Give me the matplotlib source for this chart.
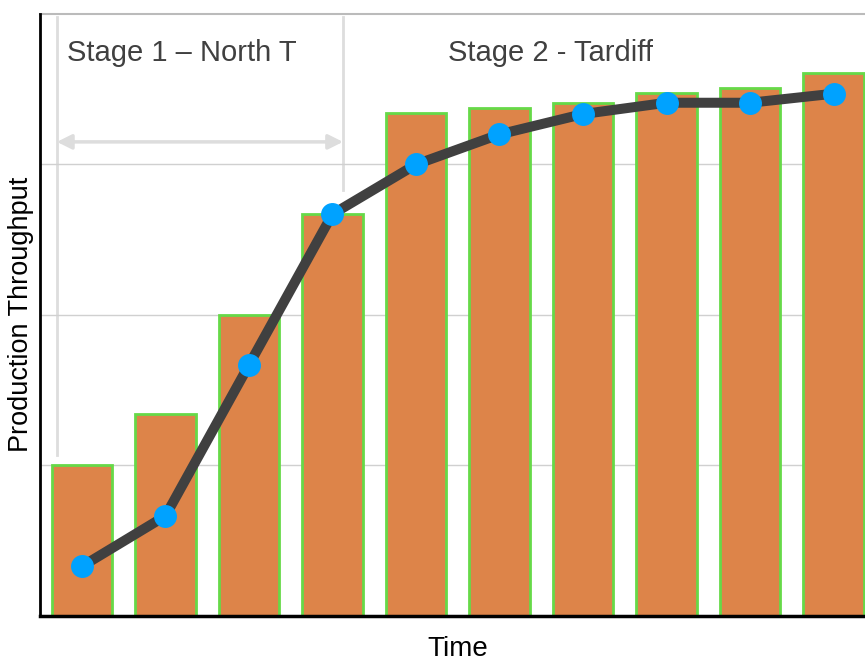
import matplotlib.pyplot as plt
import numpy as np

plt.rcParams['font.family'] = ['Liberation Sans', 'DejaVu Sans']

# data
periods = np.arange(10)
bar_values = [1.0, 1.34, 2.0, 2.67, 3.34, 3.375, 3.41, 3.475, 3.51, 3.61]
line_values = [0.33, 0.665, 1.668, 2.67, 3.0, 3.2, 3.335, 3.41, 3.41, 3.47]
stage_labels = ["Stage 1 \u2013 North T", "Stage 2 - Tardiff"]

fig = plt.figure(figsize=(8.65, 6.64), dpi=100)
ax = fig.add_axes([0.0462, 0.0723, 0.9538, 0.9067])

ax.bar(periods, bar_values, width=0.72, color="#DD8449", edgecolor="#66D948",
       linewidth=2, zorder=2)
ax.plot(periods, line_values, color="#404040", lw=7.2, zorder=3,
        marker="o", markersize=15.5, markerfacecolor="#00A2FF",
        markeredgecolor="#00A2FF", solid_capstyle="round")

ax.set_xlim(-0.503, 9.377)
ax.set_ylim(0, 4)
ax.set_yticks([1, 2, 3])
ax.set_xticks([])
ax.tick_params(axis="y", length=0, labelleft=False)
ax.grid(axis="y", color="#d0d0d0", lw=1, zorder=0)
ax.axhline(4, color="#bbbbbb", lw=1.5, zorder=0, clip_on=False)
for s in ["top", "right"]:
    ax.spines[s].set_visible(False)
ax.spines["left"].set_linewidth(2)
ax.spines["bottom"].set_linewidth(2.5)

# stage annotation
ax.plot([-0.30, -0.30], [1.07, 3.98], color="#dddddd", lw=2, zorder=1)
ax.plot([3.126, 3.126], [2.83, 3.98], color="#dddddd", lw=2, zorder=1)
ax.annotate("", xy=(-0.30, 3.15), xytext=(3.126, 3.15),
            arrowprops=dict(arrowstyle="<|-|>", color="#dddddd", lw=2.5,
                            mutation_scale=22, shrinkA=0, shrinkB=0))
ax.text(-0.18, 3.69, stage_labels[0], fontsize=21, color="#404040")
ax.text(4.38, 3.69, stage_labels[1], fontsize=21, color="#404040")

fig.text(0.024, 0.526, "Production Throughput", rotation=90, fontsize=19.5,
         ha="center", va="center", color="black")
fig.text(0.529, 0.003, "Time", fontsize=20, ha="center", va="bottom")

fig.savefig("out.png", dpi=100)
